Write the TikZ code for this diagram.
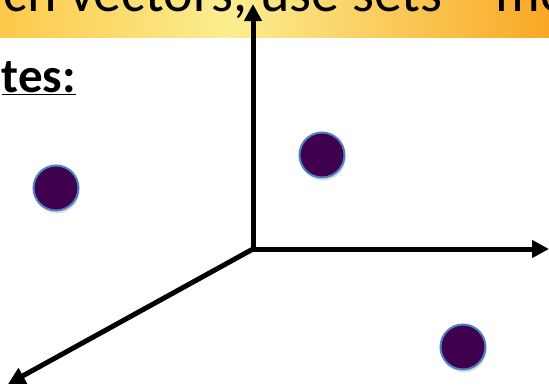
\documentclass[tikz,border=0pt]{standalone}
\usepackage{fontspec}
\setmainfont{Carlito}
\usetikzlibrary{arrows.meta,shadows}
\definecolor{BannerGold}{RGB}{252,201,74}
\definecolor{BannerLight}{RGB}{251,238,144}
\definecolor{BannerOrange}{RGB}{249,168,37}
\definecolor{DotFill}{RGB}{64,0,80}
\definecolor{DotRim}{RGB}{79,129,189}

\begin{document}
\begin{tikzpicture}[
    x=1pt, y=-1pt,
    axis/.style={-{Triangle[length=17pt,width=17pt]}, line width=5pt},
    dot/.style={circle, fill=DotFill, draw=DotRim, line width=2pt, minimum size=45pt,
                inner sep=0pt, drop shadow={opacity=0.25, shadow xshift=1pt, shadow yshift=-3pt}},
    big/.style={font=\fontsize{56}{67}\selectfont, inner sep=0pt}
]
    \useasboundingbox (0,0) rectangle (549,391);
    \clip (0,0) rectangle (549,391);
    % banner
    \shade[left color=BannerGold, right color=BannerLight] (0,0) rectangle (230,37);
    \shade[left color=BannerLight, right color=BannerOrange] (230,0) rectangle (549,37);
    \node[big, anchor=base west] (title) at (69,11) {\llap{ch }vectors, use sets – mo};
    \node[font=\fontsize{49}{59}\selectfont, inner sep=0pt, anchor=base east] (notes) at (76,92) {\textbf{\underline{tes:}}};
    % axes
    \coordinate (o) at (253,249);
    \coordinate (yend) at (253,4);
    \coordinate (xend) at (549,249);
    \coordinate (zend) at (8,384);
    \draw[axis] (o) -- (yend);
    \draw[axis] (o) -- (xend);
    \draw[axis] (o) -- (zend);
    % points
    \node[dot] (dotA) at (56,188) {};
    \node[dot] (dotB) at (322,155) {};
    \node[dot] (dotC) at (463,347) {};
\end{tikzpicture}
\end{document}
